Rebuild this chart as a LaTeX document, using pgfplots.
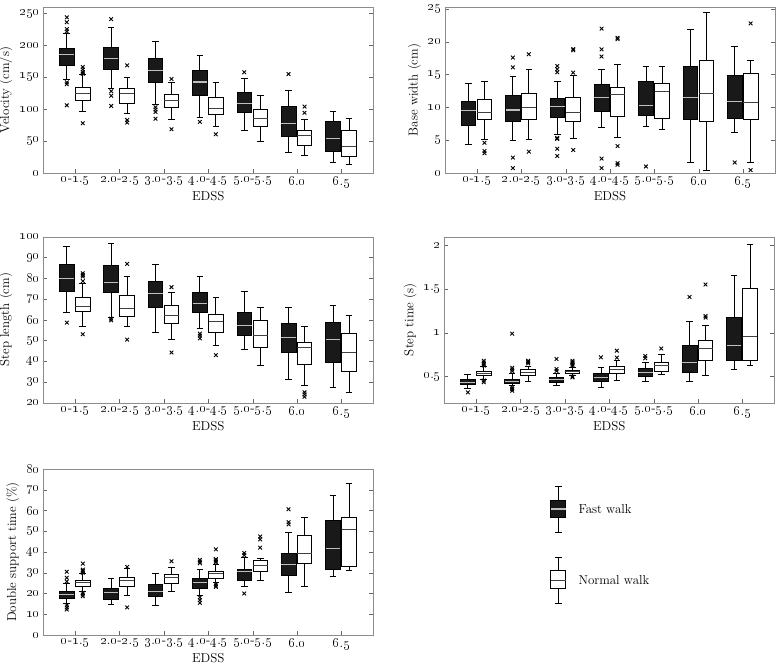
\documentclass[border=0pt]{standalone}
\usepackage{pgfplots}
\pgfplotsset{compat=1.18}
\usepgfplotslibrary{statistics}

\newcommand{\os}[1]{\oldstylenums{#1}}
\newcommand{\lbl}{\fontsize{13}{15}\selectfont}
\newcommand{\tkl}{\fontsize{13.5}{15}\selectfont}

\pgfplotsset{
  fastwalk/.style={black, line width=0.75pt, boxplot/draw direction=y,
    boxplot/box extend=0.33, boxplot/whisker extend=0.15,
    boxplot/every box/.style={fill=black!90, draw=black},
    boxplot/every median/.style={draw=black!25, line width=1.1pt}},
  normalwalk/.style={black, line width=0.75pt, boxplot/draw direction=y,
    boxplot/box extend=0.33, boxplot/whisker extend=0.15,
    boxplot/every box/.style={fill=white, draw=black},
    boxplot/every median/.style={draw=black!75, line width=1pt}},
  outl/.style={only marks, mark=x, mark size=2.6pt, black, mark options={line width=0.9pt}},
  gaitpanel/.style={
    scale only axis, width=330bp, height=166bp, anchor=south west,
    xmin=0.28, xmax=7.72, xtick={1,...,7},
    xticklabels={\os{0}-\os{1}.\os{5}, \os{2}.\os{0}-\os{2}.\os{5}, \os{3}.\os{0}-\os{3}.\os{5},
      \os{4}.\os{0}-\os{4}.\os{5}, \os{5}.\os{0}-\os{5}.\os{5}, \os{6}.\os{0}, \os{6}.\os{5}},
    xlabel={EDSS},
    tick align=inside, xtick pos=left, ytick pos=both,
    major tick length=4bp,
    axis line style={black!45}, major tick style={black!60},
    tick label style={font=\tkl}, label style={font=\lbl},
    xlabel style={yshift=4bp},
    clip=false},
}
% #1 category, then lower whisker, lower quartile, median, upper quartile, upper whisker
\newcommand{\fastbox}[6]{\addplot[fastwalk, boxplot prepared={draw position=#1-0.19,
  lower whisker=#2, lower quartile=#3, median=#4, upper quartile=#5, upper whisker=#6}] coordinates {};}
\newcommand{\normbox}[6]{\addplot[normalwalk, boxplot prepared={draw position=#1+0.17,
  lower whisker=#2, lower quartile=#3, median=#4, upper quartile=#5, upper whisker=#6}] coordinates {};}

\begin{document}
\begin{tikzpicture}
\useasboundingbox (0,0) rectangle (778bp,-665bp);

% --- Velocity ---
\begin{axis}[gaitpanel, at={(43.3bp,-173bp)}, ymin=0, ymax=260,
  ytick={0,50,...,250}, yticklabels={\os{0},\os{50},\os{100},\os{150},\os{200},\os{250}},
  ylabel={Velocity (cm/s)}]
  \fastbox{1}{147}{169}{185}{194.5}{219}
  \fastbox{2}{133}{162}{179}{197}{227.7}
  \fastbox{3}{107}{142}{161}{179}{206}
  \fastbox{4}{86.6}{122}{142.6}{160}{184}
  \fastbox{5}{67}{95.4}{109}{126.6}{148}
  \fastbox{6}{32}{58}{77.8}{103.7}{129}
  \fastbox{7}{16.6}{33.2}{54}{81.4}{97}
  \normbox{1}{97}{113.6}{124.5}{134}{154}
  \normbox{2}{92.8}{108.4}{124}{132.8}{150.4}
  \normbox{3}{84}{103}{113.6}{123}{142.6}
  \normbox{4}{72.6}{92}{100.6}{119}{142.6}
  \normbox{5}{49.8}{72.6}{85.6}{99.6}{121}
  \normbox{6}{27}{44}{58}{67}{84}
  \normbox{7}{14}{25.4}{41}{67.4}{85.6}
  \addplot[outl] coordinates {(0.81,243.8) (0.81,236.2) (0.81,225.3) (0.81,221.7) (0.81,142) (0.81,139) (0.81,106)
    (1.81,241) (1.81,128) (1.81,121) (1.81,105) (2.81,103) (2.81,99.5) (2.81,95.5) (2.81,85)
    (3.81,80) (4.81,157.7) (5.81,155)};
  \addplot[outl] coordinates {(1.17,166) (1.17,162) (1.17,158) (1.17,155.5) (1.17,78)
    (2.17,168.6) (2.17,83) (2.17,79) (3.17,147.3) (3.17,68.5) (4.17,60.7) (6.17,104) (6.17,94.4)};
\end{axis}

% --- Base width ---
\begin{axis}[gaitpanel, at={(445bp,-173bp)}, ymin=0, ymax=25.3,
  ytick={0,5,...,25}, yticklabels={\os{0},\os{5},\os{10},\os{15},\os{20},\os{25}},
  ylabel={Base width (cm)}]
  \fastbox{1}{4.3}{7.2}{9.55}{10.9}{13.6}
  \fastbox{2}{5.0}{7.85}{9.6}{11.85}{14.8}
  \fastbox{3}{5.95}{8.55}{10.1}{11.4}{13.9}
  \fastbox{4}{6.9}{9.35}{11.5}{13.5}{15.8}
  \fastbox{5}{7.05}{8.8}{10.3}{13.95}{16.2}
  \fastbox{6}{1.55}{8.2}{11.55}{16.25}{21.9}
  \fastbox{7}{6.2}{8.4}{10.85}{14.95}{19.3}
  \normbox{1}{5.1}{8.1}{9.25}{11.15}{13.9}
  \normbox{2}{5.2}{8.15}{10.0}{12.2}{15.85}
  \normbox{3}{5.35}{7.9}{9.25}{11.55}{14.9}
  \normbox{4}{5.5}{8.7}{11.95}{13.1}{16.55}
  \normbox{5}{6.7}{8.3}{12.35}{13.65}{16.3}
  \normbox{6}{0.45}{7.85}{12.15}{17.2}{24.5}
  \normbox{7}{1.55}{8.15}{10.7}{15.15}{17.2}
  \addplot[outl] coordinates {(1.81,17.6) (1.81,16.1) (1.81,2.35) (1.81,0.75)
    (2.81,16.3) (2.81,15.8) (2.81,15.35) (2.81,5.35) (2.81,5.2) (2.81,3.7) (2.81,2.6)
    (3.81,22) (3.81,18.85) (3.81,17.75) (3.81,2.2) (3.81,0.75) (4.81,1.0) (6.81,1.6)};
  \addplot[outl] coordinates {(1.17,4.6) (1.17,3.35) (1.17,3.0) (2.17,18.1) (2.17,3.25)
    (3.17,18.9) (3.17,18.7) (3.17,15.3) (3.17,3.5) (4.17,20.6) (4.17,20.4) (4.17,4.1) (4.17,1.5) (4.17,1.25)
    (7.17,22.8) (7.17,0.45)};
\end{axis}

% --- Step length ---
\begin{axis}[gaitpanel, at={(43.3bp,-402.7bp)}, ymin=20, ymax=100,
  ytick={20,30,...,100}, yticklabels={\os{20},\os{30},\os{40},\os{50},\os{60},\os{70},\os{80},\os{90},\os{100}},
  ylabel={Step length (cm)}]
  \fastbox{1}{63.7}{73.8}{79.7}{86.7}{95.4}
  \fastbox{2}{61.3}{73.3}{78.1}{86.2}{97}
  \fastbox{3}{54.1}{65.8}{72.8}{78.6}{86.9}
  \fastbox{4}{55.7}{63.5}{67.8}{73.3}{81.1}
  \fastbox{5}{45.8}{52.6}{57.1}{63.7}{73.6}
  \fastbox{6}{31.2}{44.3}{51.4}{58.4}{66.1}
  \fastbox{7}{27.2}{39.2}{50.6}{58.6}{66.9}
  \normbox{1}{56.8}{63.8}{66.4}{71}{77.5}
  \normbox{2}{56.8}{61.8}{65.6}{71.7}{81.1}
  \normbox{3}{50.7}{58.2}{62.2}{66.7}{73.2}
  \normbox{4}{47.8}{53.9}{58.9}{62.7}{70.7}
  \normbox{5}{37.8}{46.9}{52.5}{59.7}{65.8}
  \normbox{6}{28.5}{38.4}{46.4}{49}{57}
  \normbox{7}{24.8}{35.2}{44}{53.3}{62.2}
  \addplot[outl] coordinates {(0.81,58.6) (1.81,60.5) (1.81,59.7) (3.81,53.3) (3.81,52.3) (3.81,51)};
  \addplot[outl] coordinates {(1.17,82.4) (1.17,81.6) (1.17,80.8) (1.17,78.6) (1.17,53)
    (2.17,86.9) (2.17,50.4) (3.17,75.7) (3.17,44.2) (4.17,42.9) (6.17,25) (6.17,24) (6.17,22.9)};
\end{axis}

% --- Step time ---
\begin{axis}[gaitpanel, at={(444.3bp,-402.7bp)}, ymin=0.2, ymax=2.1,
  ytick={0.5,1,1.5,2}, yticklabels={\os{0}.\os{5},\os{1},\os{1}.\os{5},\os{2}},
  ylabel={Step time (s)}]
  \fastbox{1}{0.364}{0.405}{0.436}{0.462}{0.527}
  \fastbox{2}{0.394}{0.42}{0.447}{0.47}{0.53}
  \fastbox{3}{0.394}{0.436}{0.462}{0.489}{0.54}
  \fastbox{4}{0.379}{0.443}{0.492}{0.53}{0.606}
  \fastbox{5}{0.44}{0.5}{0.549}{0.595}{0.66}
  \fastbox{6}{0.443}{0.545}{0.663}{0.852}{1.133}
  \fastbox{7}{0.576}{0.682}{0.852}{1.174}{1.655}
  \normbox{1}{0.47}{0.511}{0.538}{0.56}{0.614}
  \normbox{2}{0.447}{0.511}{0.549}{0.583}{0.62}
  \normbox{3}{0.515}{0.53}{0.553}{0.572}{0.6}
  \normbox{4}{0.45}{0.53}{0.576}{0.614}{0.68}
  \normbox{5}{0.526}{0.564}{0.621}{0.663}{0.754}
  \normbox{6}{0.515}{0.689}{0.822}{0.917}{1.08}
  \normbox{7}{0.625}{0.689}{0.955}{1.504}{2.015}
  \addplot[outl] coordinates {(0.81,0.318) (1.81,0.99) (1.81,0.6) (1.81,0.58) (1.81,0.56)
    (1.81,0.375) (1.81,0.356) (1.81,0.337) (2.81,0.7) (2.81,0.586) (2.81,0.564)
    (3.81,0.72) (4.81,0.735) (4.81,0.708) (5.81,1.41)};
  \addplot[outl] coordinates {(1.17,0.68) (1.17,0.66) (1.17,0.64) (1.17,0.625) (1.17,0.455) (1.17,0.435)
    (2.17,0.68) (2.17,0.665) (2.17,0.65) (3.17,0.68) (3.17,0.665) (3.17,0.65) (3.17,0.635) (3.17,0.62)
    (3.17,0.5) (3.17,0.49) (4.17,0.795) (4.17,0.716) (5.17,0.82) (6.17,1.553) (6.17,1.193) (6.17,1.174)};
\end{axis}

% --- Double support time ---
\begin{axis}[gaitpanel, at={(43.3bp,-635bp)}, ymin=0, ymax=80,
  ytick={0,10,...,80}, yticklabels={\os{0},\os{10},\os{20},\os{30},\os{40},\os{50},\os{60},\os{70},\os{80}},
  ylabel={Double support time (\%)}]
  \fastbox{1}{15.2}{17.6}{19.7}{21.1}{24.8}
  \fastbox{2}{14.7}{17.1}{20.5}{22.4}{27.2}
  \fastbox{3}{14.1}{18.4}{21.1}{24.3}{29.9}
  \fastbox{4}{19.2}{22.4}{25.3}{27.2}{31.5}
  \fastbox{5}{23.2}{26.1}{30.7}{31.8}{37.6}
  \fastbox{6}{20.6}{28.8}{33.8}{39.2}{49.3}
  \fastbox{7}{28.3}{31.5}{41.6}{55.2}{67.4}
  \normbox{1}{20.8}{23.2}{25.1}{26.4}{29.6}
  \normbox{2}{19.2}{23.5}{26.1}{28}{32}
  \normbox{3}{21.1}{25.1}{27.7}{29.3}{32.5}
  \normbox{4}{25.3}{27.5}{29.6}{30.9}{33.9}
  \normbox{5}{26.2}{30.7}{33.6}{36}{37.1}
  \normbox{6}{23.5}{34.4}{39.4}{47.8}{56.8}
  \normbox{7}{31.2}{33.3}{50.7}{56.8}{73.1}
  \addplot[outl] coordinates {(0.81,30.5) (0.81,27.6) (0.81,25.8) (0.81,14.4) (0.81,13.3) (0.81,12.3)
    (3.81,36.2) (3.81,35.4) (3.81,34.6) (3.81,18.1) (3.81,16.8) (3.81,15.5)
    (4.81,39.5) (4.81,38.4) (4.81,20) (5.81,60.6) (5.81,54.4) (5.81,53.3)};
  \addplot[outl] coordinates {(1.17,34.4) (1.17,31.5) (1.17,30.9) (1.17,30) (1.17,20.3) (1.17,19.5) (1.17,18.7)
    (2.17,32.8) (2.17,13.3) (3.17,35.5) (4.17,41.3) (4.17,36.6) (4.17,36) (4.17,35.4) (4.17,35)
    (4.17,24.5) (4.17,23.8) (4.17,23.2) (5.17,47.5) (5.17,46.1) (5.17,42.1)};
\end{axis}

% --- Legend panel ---
\begin{axis}[scale only axis, width=100bp, height=140bp, anchor=south west, at={(540bp,-620bp)},
  xmin=0, xmax=100, ymin=0, ymax=140, hide axis, clip=false]
  \addplot[fastwalk, boxplot/box extend=15, boxplot/whisker extend=7,
    boxplot prepared={draw position=18.3, lower whisker=87.3, lower quartile=102.3,
      median=111, upper quartile=120, upper whisker=133.3}] coordinates {};
  \addplot[normalwalk, boxplot/box extend=15, boxplot/whisker extend=7,
    boxplot prepared={draw position=18.3, lower whisker=16.7, lower quartile=31.7,
      median=40, upper quartile=49.3, upper whisker=62.7}] coordinates {};
  \node[anchor=west, font=\lbl] at (axis cs:35,111) {Fast walk};
  \node[anchor=west, font=\lbl] at (axis cs:35,40) {Normal walk};
\end{axis}
\end{tikzpicture}
\end{document}
